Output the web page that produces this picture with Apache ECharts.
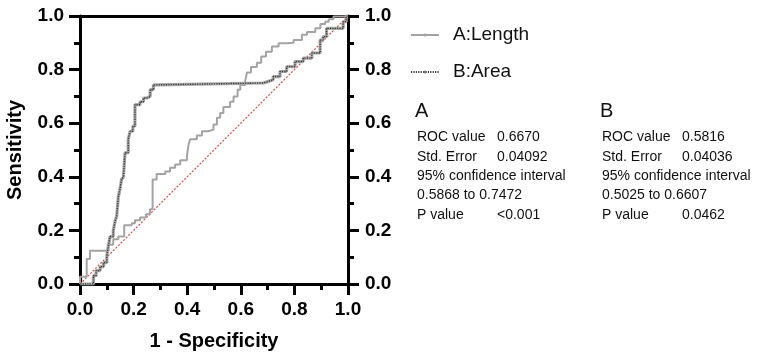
<!DOCTYPE html>
<html>
<head>
<meta charset="utf-8">
<script src="https://cdn.jsdelivr.net/npm/echarts@6/dist/echarts.min.js"></script>
<style>html,body{margin:0;padding:0;background:#fff;}#c{width:758px;height:356px;}</style>
</head>
<body>
<div id="c"></div>
<script>
// ROC curve A (Length): [1 - specificity, sensitivity] step corners
const rocA = [
  [0,0],[0,0.027],[0.025,0.093],[0.037,0.124],[0.106,0.146],[0.124,0.167],[0.143,0.177],
  [0.165,0.219],[0.193,0.227],[0.205,0.238],[0.224,0.248],[0.246,0.26],[0.261,0.279],
  [0.271,0.39],[0.286,0.41],[0.318,0.42],[0.336,0.434],[0.355,0.446],[0.374,0.462],
  [0.399,0.477],[0.405,0.52],[0.411,0.54],[0.436,0.554],[0.455,0.57],[0.479,0.576],
  [0.498,0.595],[0.511,0.62],[0.523,0.638],[0.535,0.66],[0.56,0.68],[0.573,0.70],
  [0.588,0.725],[0.598,0.743],[0.616,0.756],[0.623,0.789],[0.638,0.81],[0.66,0.826],
  [0.676,0.849],[0.694,0.867],[0.716,0.886],[0.741,0.898],[0.772,0.90],[0.797,0.91],
  [0.828,0.93],[0.847,0.94],[0.878,0.954],[0.897,0.97],[0.915,0.979],[0.928,0.988],
  [0.946,0.998],[1,1]
];
// ROC curve B (Area)
const rocB = [
  [0,0],[0.05,0],[0.05,0.031],[0.06,0.05],[0.075,0.065],[0.088,0.08],[0.1,0.105],
  [0.106,0.143],[0.112,0.177],[0.124,0.198],[0.131,0.235],[0.137,0.254],[0.143,0.325],
  [0.149,0.353],[0.155,0.39],[0.162,0.40],[0.168,0.49],[0.18,0.54],[0.187,0.57],
  [0.197,0.589],[0.205,0.669],[0.224,0.68],[0.237,0.694],[0.249,0.70],[0.262,0.725],
  [0.274,0.743],[0.286,0.75],[0.684,0.756],[0.703,0.762],[0.721,0.774],[0.746,0.793],
  [0.771,0.811],[0.802,0.83],[0.833,0.843],[0.865,0.862],[0.896,0.91],[0.907,0.923],
  [0.92,0.954],[0.982,0.979],[0.993,1.0],[1,1]
];
const refLine = [[0,0],[1,1]];
const seriesNames = ['A:Length','B:Area'];
const statLabels = ['ROC value','Std. Error','95% confidence interval','', 'P value'];
const statsA = ['0.6670','0.04092','','0.5868 to 0.7472','<0.001'];
const statsB = ['0.5816','0.04036','','0.5025 to 0.6607','0.0462'];
const blockTitles = ['A','B'];

const FONT = '"Liberation Sans", Arial, Helvetica, sans-serif';
const chart = echarts.init(document.getElementById('c'), null, {renderer:'canvas'});

function valueAxis(extra){
  return Object.assign({
    type:'value', min:0, max:1, interval:0.2,
    axisLine:{show:true, onZero:false, lineStyle:{color:'#000', width:3}},
    axisTick:{show:true, inside:false, length:11, lineStyle:{color:'#000', width:3}},
    minorTick:{show:true, splitNumber:2, length:6, lineStyle:{color:'#000', width:3}},
    splitLine:{show:false},
    axisLabel:{color:'#000', fontFamily:FONT, fontWeight:'bold', fontSize:19, margin:16,
      formatter:v=>v.toFixed(1)}
  }, extra);
}

const graphics = [];
const colX = [[417,497],[602,682]];
[statsA, statsB].forEach((vals, bi)=>{
  graphics.push({type:'text', left:colX[bi][0]-2, top:112-11,
    style:{text:blockTitles[bi], fontFamily:FONT, fontSize:20, fill:'#111'}});
  for(let i=0;i<statLabels.length;i++){
    const y = 138.3 + i*19.35;
    let lab = statLabels[i];
    let val = vals[i];
    if(lab===''){ lab = val; val=''; }
    graphics.push({type:'text', left:colX[bi][0], top:y-8,
      style:{text:lab, fontFamily:FONT, fontSize:14, fill:'#111'}});
    if(val!=='') graphics.push({type:'text', left:colX[bi][1], top:y-8,
      style:{text:val, fontFamily:FONT, fontSize:14, fill:'#111'}});
  }
});

chart.setOption({
  animation:false,
  backgroundColor:'#fff',
  grid:{left:80, top:16, right:410, bottom:71},
  legend:{
    data:seriesNames, orient:'vertical', left:410, top:24, padding:0,
    itemWidth:28, itemHeight:4, itemGap:15,
    textStyle:{fontFamily:FONT, fontSize:19, color:'#111', lineHeight:22, padding:[0,0,0,9]}
  },
  xAxis:[
    valueAxis({position:'bottom', name:'1 - Specificity', nameLocation:'middle', nameGap:47,
      nameTextStyle:{fontFamily:FONT, fontWeight:'bold', fontSize:20, color:'#000'}}),
    {type:'value', min:0, max:1, position:'top', axisLine:{show:true, onZero:false, lineStyle:{color:'#000', width:3}},
      axisTick:{show:false}, axisLabel:{show:false}, splitLine:{show:false}}
  ],
  yAxis:[
    valueAxis({position:'left', name:'Sensitivity', nameLocation:'middle', nameGap:55,
      nameTextStyle:{fontFamily:FONT, fontWeight:'bold', fontSize:20, color:'#000'}}),
    valueAxis({position:'right', axisLabel:{color:'#000', fontFamily:FONT, fontWeight:'bold', fontSize:19, margin:17, formatter:v=>v.toFixed(1)}})
  ],
  series:[
    {name:'ref', type:'line', data:refLine, symbol:'none', silent:true, z:1,
      lineStyle:{color:'#e04848', width:1.2, type:[2,1.6]}},
    {name:'A:Length', type:'line', data:rocA, step:'end', symbol:'circle', symbolSize:3, showSymbol:false, z:3,
      itemStyle:{color:'#a3a3a3'}, lineStyle:{color:'#a3a3a3', width:2}},
    {name:'B_under', type:'line', data:rocB, step:'end', symbol:'none', z:4,
      lineStyle:{color:'#a8a8a8', width:3.2}},
    {name:'B:Area', type:'line', data:rocB, step:'end', symbol:'circle', symbolSize:3, showSymbol:false, z:5,
      itemStyle:{color:'#777'}, lineStyle:{color:'#3a3a3a', width:1.4, type:[1.2,1.2]}}
  ],
  graphic:graphics
});
</script>
</body>
</html>
